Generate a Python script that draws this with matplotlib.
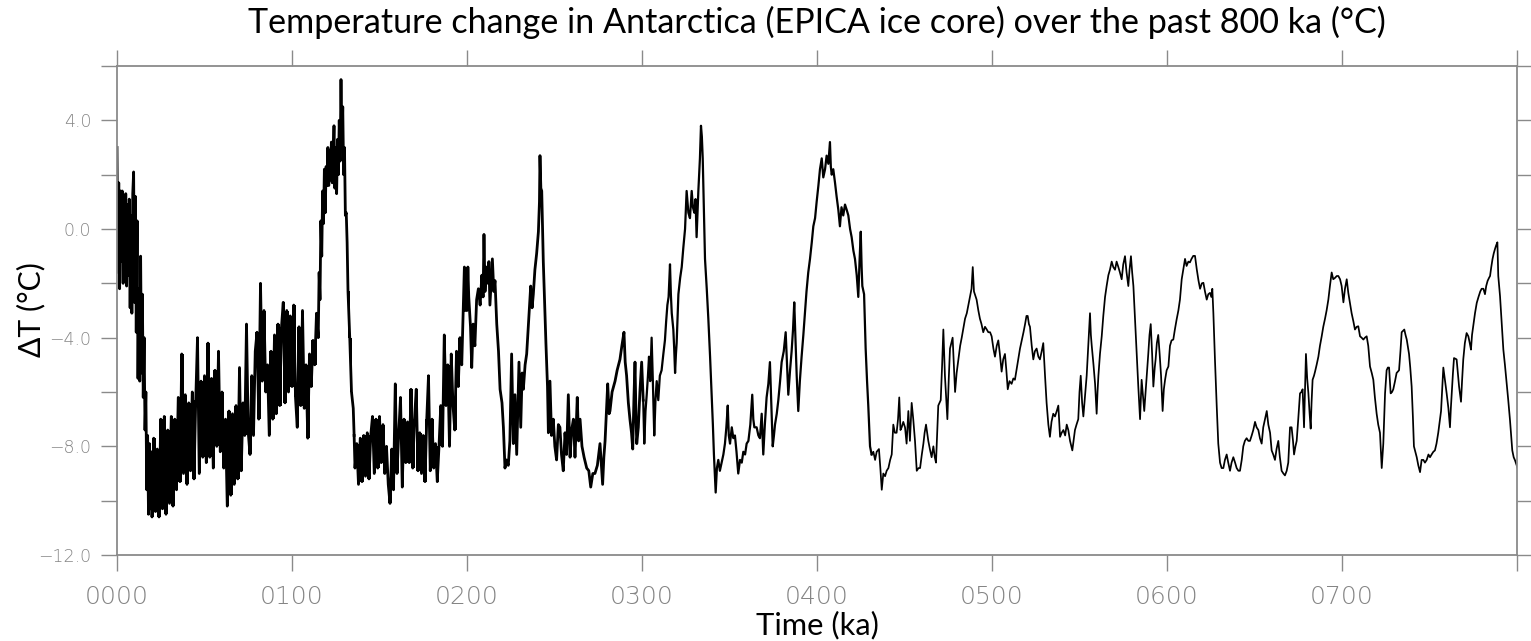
import matplotlib
matplotlib.use("Agg")
import matplotlib.pyplot as plt
from matplotlib.ticker import FixedLocator, FuncFormatter
import numpy as np

# ---------------- data ----------------
# Segment A: 0-135 ka (very dense record)
age_a = [0.0, 0.5, 1.0, 1.5, 2.0, 2.5, 3.0, 3.5, 4.0, 4.5, 5.0, 5.5, 6.0, 6.5, 7.0, 7.5,
         8.0, 8.5, 9.0, 9.5, 10.0, 10.5, 11.0, 11.5, 12.0, 12.5, 13.0, 13.5, 14.0, 14.5,
         15.0, 15.5, 16.0, 16.5, 17.0, 17.5, 18.0, 18.5, 19.0, 19.5, 20.0,
         21, 22, 23, 24, 25, 26, 27, 28, 29, 30, 31, 32, 33, 34, 35, 36, 37, 38, 39, 40,
         41, 42, 43, 44, 45, 46, 47, 48, 49, 50, 51, 52, 53, 54, 55, 56, 57, 58, 59, 60,
         61, 62, 63, 64, 65, 66, 67, 68, 69, 70, 71, 72, 73, 74, 75, 76, 77, 78, 79, 80,
         81, 82, 83, 84, 85, 86, 87, 88, 89, 90, 91, 92, 93, 94, 95, 96, 97, 98, 99, 100,
         101, 102, 103, 104, 105, 106, 107, 108, 109, 110, 111, 112, 113, 114, 115,
         115.5, 116, 116.5, 117, 117.5, 118, 118.5, 119, 119.5, 120, 120.5, 121, 121.5,
         122, 122.5, 123, 123.5, 124, 124.5, 125, 125.5, 126, 126.5, 127, 127.5, 128,
         128.5, 129, 129.5, 130, 130.5, 131, 131.5, 132, 133, 134, 135]
dT_a = [3.0, -1.6, 1.7, -2.2, 1.4, -1.2, 1.4, -2.0, 1.2, -1.4, 1.3, -2.1, 0.9, -1.7, 1.1, -2.9,
        0.5, -3.1, 1.3, 2.1, -2.7, 1.2, -3.8, 0.3, -5.5, -2.2, -5.6, -1.0, -5.3, -2.4,
        -6.2, -4.0, -7.4, -6.0, -9.6, -7.6, -10.5, -7.9, -10.3, -8.2, -10.6,
        -7.7, -10.4, -8.1, -10.6, -7.0, -10.3, -6.9, -10.5, -7.4, -10.1, -6.9, -10.2, -7.0, -9.6, -6.2, -9.3, -4.6, -9.0, -6.1, -9.4,
        -6.4, -8.9, -6.0, -9.2, -6.3, -4.0, -9.0, -5.6, -8.4, -5.4, -8.6, -4.2, -8.4, -5.5, -8.8, -5.2, -8.0, -4.5, -8.2, -6.0,
        -8.8, -7.0, -10.2, -6.7, -9.8, -6.8, -9.4, -6.5, -9.2, -5.1, -8.9, -6.4, -7.6, -3.5, -7.5, -8.3, -5.4, -7.6, -4.5, -3.8,
        -7.0, -2.0, -5.6, -3.0, -6.0, -5.0, -7.6, -4.5, -7.0, -3.9, -6.8, -3.5, -6.5, -3.6, -2.7, -6.4, -3.0, -6.0, -3.2, -5.8,
        -2.8, -6.2, -7.3, -3.6, -6.5, -3.0, -6.6, -5.0, -7.7, -4.6, -5.8, -4.1, -5.0, -3.1, -4.0,
        -1.6, -2.6, 0.3, -1.0, 1.4, 0.2, 2.2, 0.6, 2.3, 1.6, 3.0, 1.6, 2.9,
        1.8, 3.2, 1.7, 2.6, 3.8, 1.5, 3.0, 1.3, 3.3, 2.0, 4.0, 2.5, 5.5,
        3.0, 4.5, 2.0, 3.0, 0.5, 0.6, -0.5, -2.3, -4.0, -6.0, -6.6]

# Segment B: 135-300 ka
age_b = [135.5, 136, 137, 138, 139, 140, 141, 142, 143, 144, 145, 146, 147, 148, 149, 150,
         151, 152, 153, 154, 155, 156, 157, 158, 159, 160, 161, 162, 163, 164, 165, 166,
         167, 168, 169, 170, 171, 172, 173, 174, 175, 176, 177, 178, 179, 180, 181, 182,
         183, 184, 185, 186, 187, 188, 189, 190, 191, 192, 193, 194, 195, 196, 197, 197.5,
         198, 198.5, 199, 199.5, 200, 200.5, 201, 202, 202.7, 203.5, 204.5, 205.5, 206.5,
         207.5, 208.5, 209.2, 209.7, 210.3, 211, 212, 212.5, 213.1, 214, 214.5, 215.3, 216,
         217, 218, 218.9, 220, 220.8, 221.7, 222.5, 223.6, 224.5, 225.5, 226.5, 227.4,
         228.4, 229.7, 230.7, 231.5, 232.2, 233.2, 234.1, 235, 236.4, 237.2, 237.9, 238.8,
         239.8, 240.8, 241.4, 241.7, 242.2, 242.7, 243.6, 244.5, 245.1, 246, 246.5, 247.4,
         248.3, 249.3, 250.2, 251.2, 252.2, 253.1, 254, 255, 256, 256.9, 257.9, 258.9,
         259.8, 260.8, 261.7, 262.4, 263, 263.8, 264.6, 265.7, 266.9, 268.4, 269.6, 270.7,
         271.9, 273.1, 274.5, 276, 276.8, 277.5, 278.2, 278.9, 280.4, 281.2, 281.7, 282.9,
         284.6, 285.8, 287.4, 288.5, 289.7, 290.4, 291.2, 292.2, 293.1, 294, 294.7, 295.4,
         296, 296.6, 297, 297.9, 298.8, 299.8]
dT_b = [-7.6, -8.8, -7.9, -9.4, -7.7, -9.3, -7.6, -9.1, -7.5, -9.2, -7.6, -6.9, -9.0, -7.0, -8.8, -6.9,
        -8.6, -7.2, -9.0, -8.0, -9.4, -10.1, -8.1, -9.6, -5.7, -9.0, -7.5, -6.2, -9.5, -7.0, -8.6, -7.1,
        -8.6, -5.9, -8.8, -7.0, -5.9, -8.9, -7.5, -9.0, -7.6, -9.3, -7.0, -5.4, -8.9, -7.0, -8.8, -7.9,
        -9.3, -8.0, -6.5, -8.0, -3.9, -6.5, -5.0, -8.0, -4.6, -6.5, -7.4, -4.5, -5.8, -4.0, -5.0, -3.8,
        -2.5, -1.4, -3.0, -1.5, -3.0, -1.4, -2.5, -3.6, -5.1, -3.5, -4.3, -2.6, -2.2,
        -2.8, -1.7, -2.5, -0.2, -2.3, -1.4, -2.0, -1.2, -2.8, -1.7, -1.1, -2.3, -1.9,
        -3.5, -4.5, -5.9, -6.4, -7.3, -8.8, -8.5, -8.7, -7.8, -4.6, -7.9, -6.1,
        -8.3, -4.9, -7.3, -5.3, -5.9, -5.0, -4.6, -3.6, -2.1, -2.9, -2.4, -1.5,
        -0.9, -0.1, 1.0, 2.7, 1.5, 1.4, -1.2, -3.0, -4.2, -5.8, -7.5, -5.6,
        -7.6, -7.0, -8.0, -8.5, -7.2, -7.3, -8.3, -8.9, -7.5, -8.3, -6.1, -8.4,
        -7.4, -7.0, -8.4, -7.3, -6.2, -7.8, -7.0, -8.0, -8.4, -8.8, -8.9, -9.5,
        -9.0, -9.0, -8.7, -7.9, -8.7, -9.4, -8.4, -7.8, -5.7, -6.8, -6.7, -6.0,
        -5.6, -5.2, -4.8, -4.3, -3.8, -4.9, -5.4, -6.4, -7.0, -7.5, -8.1, -6.2,
        -4.9, -7.0, -7.9, -7.3, -6.0, -4.9]

# Segment C: 300-430 ka
age_c = [300.7, 301.3, 302, 302.7, 303.4, 304, 304.7, 305.5, 306.2, 307, 307.7, 308.4, 309.3,
         310.2, 311.2, 312.2, 313.1, 313.8, 314.5, 315.2, 316, 316.5, 317, 317.9, 318.4,
         318.9, 319.4, 319.8, 320.8, 321.8, 322.7, 323.6, 324.6, 325.5, 326.5, 327.4, 328.4,
         329.1, 329.9, 330.6, 331.2, 332.2, 333.1, 333.7, 334.2, 334.7, 335.4, 336, 337,
         337.9, 338.9, 339.8, 340.5, 341.1, 342.1, 342.8, 343.6, 344.5, 345.5, 346.5, 347.4,
         348.2, 349, 349.6, 350.3, 351.3, 352.2, 353.1, 354, 355, 356, 357, 357.9, 358.9,
         359.8, 360.8, 361.9, 363, 363.6, 364.2, 365.5, 366.5, 367.4, 368.4, 369.3, 370.2,
         371.2, 372.2, 373.1, 373.9, 374.7, 375.4, 376, 377, 377.9, 378.9, 379.8, 381, 382.1,
         382.9, 383.6, 384.6, 385.5, 386.3, 387, 387.7, 388.4, 389.3, 390.2, 391.2, 392.2,
         393.1, 394, 395, 396, 397, 397.9, 398.9, 399.8, 400.8, 401.7, 402.7, 403.6, 404.6,
         405.5, 406.5, 407.4, 407.9, 408.4, 409.3, 410.3, 411.2, 412.2, 413.1, 414, 415, 416,
         417, 417.9, 418.9, 419.8, 420.8, 421.7, 422.7, 423.6, 424.3, 425, 425.5, 425.9,
         426.9, 427.8, 428.6, 429.3, 430.3]
dT_c = [-6.3, -7.9, -6.7, -6.1, -5.4, -4.7, -5.6, -4.0, -5.6, -7.6, -6.3, -5.6, -6.3,
        -5.4, -5.2, -4.6, -4.1, -3.4, -2.8, -2.5, -1.3, -2.4, -3.1, -3.7, -4.4,
        -5.3, -4.6, -4.2, -2.4, -1.8, -1.4, -0.7, 0.0, 1.4, 0.6, 0.4, 1.4,
        0.8, 0.6, 1.1, -0.3, 1.4, 2.6, 3.8, 3.4, 2.6, 0.7, -1.1, -2.2,
        -3.3, -4.7, -6.1, -7.2, -8.3, -9.7, -8.8, -8.5, -8.9, -8.6, -8.3, -7.9,
        -7.3, -6.5, -7.6, -7.9, -7.3, -7.7, -7.6, -8.2, -9.0, -8.5, -8.6, -8.2, -8.3,
        -7.9, -7.8, -7.2, -6.1, -7.0, -7.3, -7.3, -7.6, -7.7, -6.8, -8.3, -7.2,
        -6.2, -5.7, -4.9, -6.4, -8.0, -7.6, -7.2, -6.8, -6.3, -5.6, -4.9, -4.5, -3.8,
        -5.0, -6.1, -5.2, -4.5, -3.7, -2.7, -4.0, -5.4, -6.7, -5.6, -4.7, -3.9,
        -3.1, -2.3, -1.6, -1.1, -0.5, 0.1, 0.4, 1.0, 1.6, 2.2, 2.6, 1.9, 2.2,
        2.7, 2.4, 3.2, 2.3, 2.0, 2.2, 1.7, 1.2, 0.7, 0.1, 0.8, 0.5, 0.9,
        0.7, 0.5, 0.0, -0.3, -0.8, -1.1, -1.7, -2.5, -1.2, -0.1, -1.4, -2.1,
        -2.4, -4.4, -5.6, -6.5, -8.0]

# Segment D: 430-800 ka
age_d = [431.2, 432.2, 433.2, 434.1, 435.4, 436.2, 437, 437.9, 438.9, 439.8, 440.8, 441.8,
         442.7, 443.6, 444.5, 445.5, 446.3, 447, 447.7, 448.4, 449.3, 450.3, 451.2, 452.2,
         453.1, 454.1, 455, 456, 457, 458, 458.9, 459.9, 460.8, 461.5, 462.3, 463.6, 464.5,
         465.5, 466.5, 467.3, 468, 468.6, 469.3, 470.7, 471.5, 472.2, 473.1, 474.5, 475.3,
         476, 477.5, 478.9, 479.8, 480.8, 481.8, 482.7, 484.6, 485.6, 486.5, 487.4, 488.3,
         489, 489.7, 491.2, 492.2, 493.1, 494, 495, 496, 497, 497.9, 498.9, 499.8, 500.8,
         501.7, 502.7, 503.6, 504.5, 505.5, 506.4, 507.4, 508.2, 509, 510, 511.2, 512.2,
         513.1, 514, 515, 516, 517, 518, 518.9, 519.7, 520.4, 521.1, 521.7, 522.7, 523.6,
         524.5, 525.5, 526.5, 527.4, 528.4, 529.3, 530.3, 531.2, 532.2, 533.1, 534, 535,
         536, 537, 537.9, 538.9, 539.8, 540.8, 541.8, 542.7, 543.6, 544.6, 545.9, 546.6,
         547.4, 548.3, 549.3, 550, 550.7, 551.5, 552.2, 553.1, 554.1, 555, 556, 556.5, 557,
         558, 558.9, 559.8, 560.3, 560.8, 561.7, 562.7, 563.6, 564.6, 565.5, 566.5, 567.4,
         568.4, 569.3, 570.3, 571.2, 572.2, 573.1, 574.1, 575, 576, 576.9, 577.9, 578.6,
         579.4, 580.1, 580.8, 581.7, 582.7, 583.6, 584.6, 585.5, 586.2, 587, 588, 589.3,
         590, 590.7, 591.5, 592.2, 593, 593.5, 594.2, 595, 595.8, 596.6, 597.5, 598.2,
         598.9, 599.8, 600.8, 601.7, 602.6, 603.6, 604.5, 605.5, 606.5, 607.4, 608.4,
         609.3, 610.3, 611.2, 612.2, 613.1, 614, 615, 616, 617, 618, 618.9, 619.9, 620.8,
         621.7, 622.7, 623.6, 624.6, 625.3, 625.9, 626.5, 627.4, 628.4, 629.3, 630.3,
         631.2, 632.2, 633.1, 634.1, 635, 636, 636.9, 637.9, 638.9, 639.8, 640.8, 641.7,
         642.7, 643.6, 644.5, 645.5, 646.5, 647.4, 648.4, 649.3, 650.3, 651.2, 652.2,
         653.1, 654.1, 655, 656, 657, 657.9, 658.9, 659.8, 660.7, 661.7, 662.6, 663.6,
         664.5, 665.5, 666.5, 667.4, 668.4, 669.3, 670.3, 671.2, 672, 672.6, 673.4, 674.1,
         675, 676, 676.8, 677.5, 678.3, 679, 679.4, 680.1, 680.8, 681.5, 682.1, 682.6,
         683.2, 684, 684.6, 685.5, 686.5, 687.4, 688.4, 689.3, 690.3, 691.2, 692.2, 693.1,
         694.1, 695, 696, 697, 697.9, 698.9, 699.8, 700.8, 701.7, 702.7, 703.6, 704.5,
         705.5, 706.5, 707.4, 708.4, 709.3, 710.3, 711.2, 712.2, 713.1, 714.1, 715, 716,
         717, 717.9, 718.8, 719.8, 720.7, 721.7, 722.7, 723.6, 724.6, 725.5, 726.2, 726.9,
         727.8, 728.6, 729.3, 730.3, 731.2, 732.6, 733.4, 734.1, 735.6, 736.3, 737, 738.3,
         739, 739.8, 740.5, 741.1, 741.9, 742.7, 743.6, 744.6, 745.5, 746.5, 747.4, 748.4,
         749.4, 750.3, 751.2, 752.2, 753.1, 754, 755, 755.8, 756.6, 757.3, 757.9, 758.9,
         759.8, 760.8, 761.7, 762.2, 762.7, 763.4, 764, 765.5, 766.2, 766.9, 768, 768.6,
         769.3, 770.2, 771.2, 772.2, 773, 773.7, 774.3, 775, 776, 777, 778, 779, 779.8,
         780.8, 781.7, 782.4, 783.2, 784, 784.6, 785.3, 786, 786.7, 787.4, 788.1, 788.8,
         789.3, 790.3, 791.2, 792.2, 793.1, 794.1, 795, 796, 797.3, 798.1, 798.9, 799.8,
         800.8]
dT_d = [-8.3, -8.2, -8.5, -8.2, -8.1, -8.8, -9.6, -9.0, -9.1, -8.9, -8.8, -8.5,
        -8.3, -7.2, -7.5, -7.5, -7.0, -6.2, -7.4, -7.3, -7.1, -7.3, -7.9, -6.7,
        -7.8, -6.4, -7.0, -7.8, -8.9, -8.8, -8.8, -8.3, -7.9, -7.5, -7.2, -7.8, -8.1,
        -8.4, -8.0, -8.4, -8.6, -7.6, -6.5, -6.3, -5.0, -3.7, -5.4, -7.0, -5.5,
        -4.4, -4.0, -6.0, -5.3, -4.8, -4.3, -4.0, -3.3, -3.1, -2.8, -2.5, -2.2,
        -1.4, -2.3, -2.6, -3.0, -3.3, -3.5, -3.8, -3.6, -3.7, -3.8, -3.8, -3.95, -4.4,
        -4.7, -4.3, -4.1, -4.6, -5.25, -4.8, -4.6, -5.2, -5.9, -5.6, -5.7, -5.5,
        -5.55, -5.2, -4.8, -4.4, -4.1, -3.8, -3.5, -3.2, -3.2, -3.5, -3.6, -4.3, -4.8,
        -4.5, -4.4, -4.7, -4.8, -4.5, -4.2, -5.4, -6.4, -7.2, -7.65, -7.1, -6.8,
        -6.9, -6.7, -6.5, -7.65, -7.5, -7.4, -7.6, -7.2, -7.4, -7.8, -8.15, -7.8,
        -7.4, -7.2, -7.0, -6.0, -5.4, -6.4, -6.9, -6.2, -5.4, -4.3, -3.1, -3.9, -4.3,
        -5.0, -5.7, -6.8, -6.0, -5.4, -4.6, -3.95, -3.2, -2.5, -2.1, -1.7, -1.5,
        -1.2, -1.4, -1.5, -1.2, -1.4, -1.6, -1.85, -1.3, -1.0, -1.6, -2.1, -1.5,
        -1.0, -1.6, -2.1, -3.3, -4.6, -5.8, -7.0, -5.55, -6.1, -6.7, -5.8, -4.6,
        -3.9, -3.5, -4.6, -5.8, -5.1, -4.8, -4.2, -3.9, -4.6, -5.4, -6.7, -5.9,
        -5.55, -5.2, -5.06, -4.3, -4.1, -4.07, -3.7, -3.33, -3.0, -2.6, -1.85,
        -1.5, -1.1, -1.36, -1.2, -1.23, -1.1, -0.99, -0.99, -1.48, -1.9, -2.2, -2.0, -1.98,
        -2.3, -2.6, -2.4, -2.35, -2.5, -2.2, -3.1, -4.8, -6.5, -7.9, -8.6,
        -8.8, -8.8, -8.5, -8.3, -8.6, -8.9, -8.6, -8.4, -8.6, -8.8, -8.9, -8.9,
        -8.5, -8.0, -7.8, -7.7, -7.8, -7.8, -7.6, -7.4, -7.1, -7.3, -7.4,
        -7.7, -7.9, -7.3, -7.0, -6.7, -7.2, -7.5, -8.15, -8.3, -8.5, -8.1, -7.8,
        -8.4, -8.9, -9.0, -9.07, -8.9, -8.6, -7.3, -7.3, -7.8, -8.3, -8.0, -7.8,
        -7.0, -6.05, -6.0, -5.9, -7.3, -5.5, -4.6, -5.5, -6.05, -6.8, -7.35, -6.4,
        -5.55, -5.4, -5.25, -5.0, -4.7, -4.3, -3.95, -3.6, -3.3, -3.0, -2.6, -2.1,
        -1.6, -1.85, -1.8, -1.73, -1.73, -1.85, -2.1, -2.7, -2.2, -1.85, -2.35, -2.7,
        -3.1, -3.4, -3.7, -3.6, -3.58, -3.95, -4.0, -4.07, -4.0, -3.95, -4.3, -5.06,
        -5.3, -5.55, -6.2, -6.8, -7.2, -7.5, -8.8, -7.9, -6.05, -5.2, -5.1, -5.1,
        -6.05, -6.0, -5.9, -5.6, -5.3, -5.2, -4.5, -3.8, -3.7, -3.9, -4.07, -4.6,
        -5.1, -5.8, -6.9, -8.0, -8.2, -8.4, -8.7, -8.95, -8.5, -8.5, -8.6, -8.5,
        -8.3, -8.4, -8.3, -8.2, -8.15, -7.9, -7.5, -7.1, -6.7, -5.8, -5.1, -5.6,
        -6.05, -6.6, -7.3, -6.6, -6.05, -5.3, -4.75, -4.8, -5.3, -5.8, -6.36, -5.6,
        -4.8, -4.2, -3.83, -3.95, -4.2, -4.44, -3.9, -3.58, -3.1, -2.72, -2.5, -2.3, -2.2,
        -2.2, -2.4, -2.1, -1.91, -1.8, -1.73, -1.4, -1.11, -0.9, -0.74, -0.6, -0.49,
        -1.73, -2.47, -3.4, -4.44, -5.0, -5.68, -6.3, -7.04, -8.15, -8.4, -8.52, -8.7,
        -8.89]

x_ticks = [0, 100, 200, 300, 400, 500, 600, 700, 800]
x_tick_labels = ["0000", "0100", "0200", "0300", "0400", "0500", "0600", "0700", ""]
y_ticks = [-12, -10, -8, -6, -4, -2, 0, 2, 4, 6]
y_labelled = [-12, -8, -4, 0, 4]

title = "Temperature change in Antarctica (EPICA ice core) over the past 800 ka (°C)"
x_label = "Time (ka)"
y_label = "ΔT (°C)"

# ---------------- figure ----------------
W, H = 1531, 641
fig = plt.figure(figsize=(W / 100, H / 100), dpi=100)
ax = fig.add_axes([117 / W, 1 - 555 / H, 1400 / W, 489 / H])

age = np.array(age_a + age_b + age_c + age_d, dtype=float)
dT = np.array(dT_a + dT_b + dT_c + dT_d, dtype=float)

# The recent part of the record is sampled so densely that the trace becomes a
# solid band: shade, between consecutive samples, the range the trace sweeps.
dense = age <= 200
xa = age[dense]
ya = dT[dense]
lo = np.minimum(ya[:-1], ya[1:])
hi = np.maximum(ya[:-1], ya[1:])
ax.fill_between(xa[:-1], lo, hi, step="post", color="black", lw=0)

ax.plot(age_a + age_b[:1], dT_a + dT_b[:1], color="black", lw=2.0)
ax.plot(age_b + age_c[:1], dT_b + dT_c[:1], color="black", lw=2.0)
ax.plot(age_c + age_d[:1], dT_c + dT_d[:1], color="black", lw=1.6)
ax.plot(age_d, dT_d, color="black", lw=1.25)

ax.set_xlim(0, 800)
ax.set_ylim(-12, 6)

grey = "#8a8a8a"
for s in ax.spines.values():
    s.set_color(grey)
    s.set_linewidth(1.3)

ax.xaxis.set_major_locator(FixedLocator(x_ticks))
ax.set_xticklabels(x_tick_labels)
ax.yaxis.set_major_locator(FixedLocator(y_ticks))


def yfmt(v, pos):
    if int(round(v)) in y_labelled:
        return f"{v:.1f}".replace("-", "\u2212")
    return ""


ax.yaxis.set_major_formatter(FuncFormatter(yfmt))
ax.tick_params(axis="both", which="major", direction="out", length=11.5, width=1.0,
               color=grey, top=True, right=True, labeltop=False, labelright=False)
ax.tick_params(axis="x", pad=10, labelsize=18, labelcolor="#858585")
ax.tick_params(axis="y", pad=7, labelsize=12.5, labelcolor="#858585")
for lab in ax.get_xticklabels() + ax.get_yticklabels():
    lab.set_family("DejaVu Sans")
    lab.set_fontweight("light")

fam = ["Lato", "DejaVu Sans"]
t = fig.text((117 + 700) / W, 1 - 22 / H, title, ha="center", va="center",
             fontsize=20, family=fam, color="black")
xl = fig.text((117 + 700) / W, 1 - 625 / H, x_label, ha="center", va="center",
              fontsize=17, family=fam, color="black")
yl = fig.text(31 / W, 1 - 310 / H, y_label, ha="center", va="center", rotation=90,
              fontsize=17, family=fam, color="black")

fig.canvas.draw()
r = fig.canvas.get_renderer()
w = t.get_window_extent(r).width
t.set_fontsize(20 * 1140 / w)
w = xl.get_window_extent(r).width
xl.set_fontsize(17 * 123 / w)
h = yl.get_window_extent(r).height
yl.set_fontsize(17 * 95 / h)

fig.savefig("out.png", dpi=100, facecolor="white")
